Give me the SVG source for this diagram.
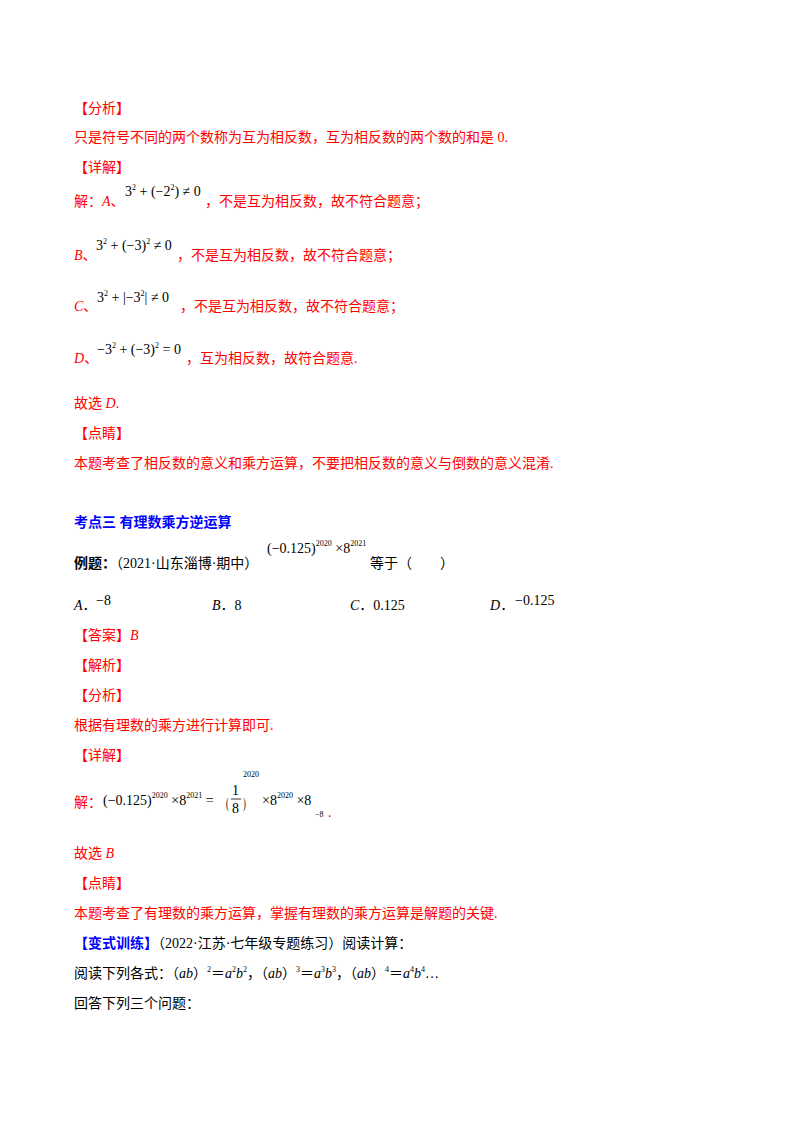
<svg xmlns="http://www.w3.org/2000/svg" width="800" height="1132" viewBox="0 0 800 1132">
<style>
text{font-family:"Liberation Serif","Noto Sans CJK SC",serif;font-size:14px}
.r{fill:#ff0000}
.b{fill:#000}
.m{font-family:"Liberation Serif",serif;fill:#000}
.s{font-size:8px}
.i{font-style:italic}
.bl{fill:#0000ff;font-weight:bold}
</style>
<rect width="800" height="1132" fill="#fff"/>
<text x="74" y="113" class="r">【分析】</text>
<text x="74" y="142" class="r">只是符号不同的两个数称为互为相反数，互为相反数的两个数的和是 0.</text>
<text x="74" y="172" class="r">【详解】</text>
<text x="74" y="206" class="r">解：<tspan class="i">A</tspan>、</text>
<text x="125" y="196" class="m">3<tspan class="s" dy="-6">2</tspan><tspan dy="6"> + (−2</tspan><tspan class="s" dy="-6">2</tspan><tspan dy="6">) ≠ 0</tspan></text>
<text x="205" y="206" class="r">，不是互为相反数，故不符合题意；</text>
<text x="74" y="260" class="r"><tspan class="i">B</tspan>、</text>
<text x="96" y="250" class="m">3<tspan class="s" dy="-6">2</tspan><tspan dy="6"> + (−3)</tspan><tspan class="s" dy="-6">2</tspan><tspan dy="6"> ≠ 0</tspan></text>
<text x="177" y="260" class="r">，不是互为相反数，故不符合题意；</text>
<text x="74" y="311" class="r"><tspan class="i">C</tspan>、</text>
<text x="97" y="302" class="m">3<tspan class="s" dy="-6">2</tspan><tspan dy="6"> + |−3</tspan><tspan class="s" dy="-6">2</tspan><tspan dy="6">| ≠ 0</tspan></text>
<text x="180" y="311" class="r">，不是互为相反数，故不符合题意；</text>
<text x="74" y="363" class="r"><tspan class="i">D</tspan>、</text>
<text x="97" y="354" class="m">−3<tspan class="s" dy="-6">2</tspan><tspan dy="6"> + (−3)</tspan><tspan class="s" dy="-6">2</tspan><tspan dy="6"> = 0</tspan></text>
<text x="186" y="363" class="r">，互为相反数，故符合题意.</text>
<text x="74" y="408" class="r">故选 <tspan class="i">D</tspan>.</text>
<text x="74" y="438" class="r">【点睛】</text>
<text x="74" y="468" class="r">本题考查了相反数的意义和乘方运算，不要把相反数的意义与倒数的意义混淆.</text>
<text x="74" y="527" class="bl">考点三  有理数乘方逆运算</text>
<text x="74" y="568" class="b"><tspan font-weight="bold">例题：</tspan>（2021·山东淄博·期中）</text>
<text x="267" y="553" class="m">(−0.125)<tspan class="s" dy="-7">2020</tspan><tspan dy="7"> ×8</tspan><tspan class="s" dy="-7">2021</tspan></text>
<text x="370" y="568" class="b">等于（　　）</text>
<text x="74" y="610" class="b"><tspan class="i">A</tspan>．</text>
<text x="96" y="605" class="m">−8</text>
<text x="212" y="610" class="b"><tspan class="i">B</tspan>．8</text>
<text x="350" y="610" class="b"><tspan class="i">C</tspan>．0.125</text>
<text x="490" y="610" class="b"><tspan class="i">D</tspan>．</text>
<text x="515" y="605" class="m">−0.125</text>
<text x="74" y="640" class="r">【答案】<tspan class="i">B</tspan></text>
<text x="74" y="670" class="r">【解析】</text>
<text x="74" y="700" class="r">【分析】</text>
<text x="74" y="730" class="r">根据有理数的乘方进行计算即可.</text>
<text x="74" y="760" class="r">【详解】</text>
<text x="74" y="807" class="r">解：</text>
<text x="103" y="805" class="m">(−0.125)<tspan class="s" dy="-7">2020</tspan><tspan dy="7"> ×8</tspan><tspan class="s" dy="-7">2021</tspan><tspan dy="7"> =</tspan></text>
<text x="226" y="808" class="m" font-size="30" transform="scale(0.6 1)" transform-origin="226 808">(</text>
<text x="232" y="795" class="m">1</text>
<line x1="231" y1="799" x2="241" y2="799" stroke="#000" stroke-width="0.8"/>
<text x="232" y="813" class="m">8</text>
<text x="243" y="808" class="m" font-size="30" transform="scale(0.6 1)" transform-origin="243 808">)</text>
<text x="243" y="777" class="m s">2020</text>
<text x="262" y="805" class="m">×8<tspan class="s" dy="-7">2020</tspan><tspan dy="7"> ×8</tspan></text>
<text x="315" y="817" class="m s">−8</text>
<text x="328" y="817" class="r" font-size="8">.</text>
<text x="74" y="858" class="r">故选 <tspan class="i">B</tspan></text>
<text x="74" y="888" class="r">【点睛】</text>
<text x="74" y="918" class="r">本题考查了有理数的乘方运算，掌握有理数的乘方运算是解题的关键.</text>
<text x="74" y="948" class="b"><tspan class="bl">【变式训练】</tspan>（2022·江苏·七年级专题练习）阅读计算：</text>
<text x="74" y="978" class="b">阅读下列各式：（<tspan class="i">ab</tspan>）<tspan class="s" dy="-6">2</tspan><tspan dy="6">＝</tspan><tspan class="i">a</tspan><tspan class="s" dy="-6">2</tspan><tspan class="i" dy="6">b</tspan><tspan class="s" dy="-6">2</tspan><tspan dy="6">，（</tspan><tspan class="i">ab</tspan>）<tspan class="s" dy="-6">3</tspan><tspan dy="6">＝</tspan><tspan class="i">a</tspan><tspan class="s" dy="-6">3</tspan><tspan class="i" dy="6">b</tspan><tspan class="s" dy="-6">3</tspan><tspan dy="6">，（</tspan><tspan class="i">ab</tspan>）<tspan class="s" dy="-6">4</tspan><tspan dy="6">＝</tspan><tspan class="i">a</tspan><tspan class="s" dy="-6">4</tspan><tspan class="i" dy="6">b</tspan><tspan class="s" dy="-6">4</tspan><tspan dy="6">…</tspan></text>
<text x="74" y="1008" class="b">回答下列三个问题：</text>
</svg>
